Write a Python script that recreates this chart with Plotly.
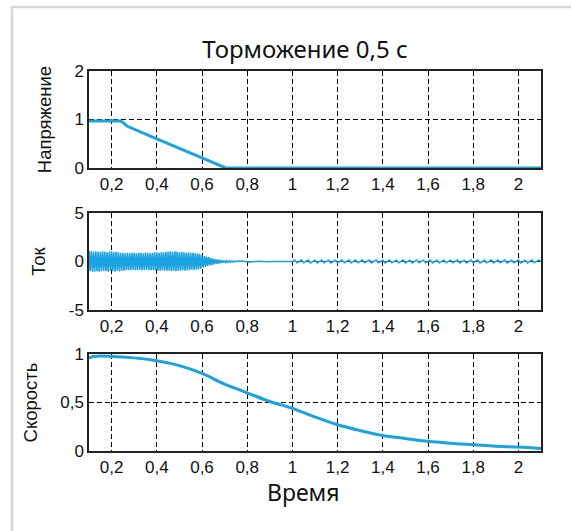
import numpy as np
import plotly.graph_objects as go
from plotly.subplots import make_subplots

# ---- data ----
title_text = "Торможение 0,5 с"
x_label = "Время"
y_labels = ["Напряжение", "Ток", "Скорость"]
x_tickvals = [0.2, 0.4, 0.6, 0.8, 1.0, 1.2, 1.4, 1.6, 1.8, 2.0]

voltage_t = [0.1, 0.24, 0.255, 0.27, 0.4, 0.5, 0.6, 0.705, 2.1]
voltage_v = [0.97, 0.97, 0.92, 0.86, 0.6, 0.41, 0.21, 0.0, 0.0]

current_t1 = np.round(np.arange(0.100, 0.7501, 0.005), 3)
current_i1 = [
    1.1, -1.0, 1.05, -1.05, 1.0, -1.05, 1.05, -1.0, 1.0, -1.05,
    1.0, -1.0, 1.05, -0.95, 1.0, -1.0, 0.95, -1.05, 1.0, -0.95,
    1.05, -1.0, 0.95, -1.05, 1.0, -0.95, 0.95, -1.0, 0.9, -0.95,
    0.9, -0.95, 0.85, -0.9, 0.9, -0.9, 0.85, -0.9, 0.9, -0.85,
    0.9, -0.9, 0.85, -0.9, 0.9, -0.85, 0.9, -0.9, 0.85, -0.9,
    0.9, -0.85, 0.9, -0.9, 0.85, -0.9, 0.9, -0.9, 0.95, -0.9,
    0.95, -0.95, 0.9, -0.95, 0.95, -0.9, 0.95, -0.95, 1.0, -0.95,
    1.0, -0.95, 1.05, -1.0, 1.0, -0.95, 1.05, -1.0, 1.0, -0.95,
    0.95, -0.95, 1.0, -0.9, 0.95, -0.95, 0.9, -0.9, 0.95, -0.9,
    0.9, -0.85, 0.9, -0.85, 0.85, -0.85, 0.85, -0.8, 0.8, -0.75,
    0.65, -0.6, 0.55, -0.55, 0.5, -0.45, 0.45, -0.4, 0.35, -0.35,
    0.3, -0.3, 0.25, -0.25, 0.2, -0.2, 0.15, -0.15, 0.12, -0.12,
    0.1, -0.1, 0.08, -0.08, 0.06, -0.06, 0.05, -0.05, 0.04, -0.04,
    0.03,
]
current_t2 = np.round(np.arange(0.76, 2.1001, 0.01), 3)
current_i2 = [
    0.05, 0.08, 0.05, 0.0, -0.05, -0.06, -0.03, 0.0, 0.03, 0.04,
    0.02, 0.0, -0.02, -0.03, -0.02, 0.0, 0.01, 0.01, 0.0, 0.0,
    0.0, 0.0, 0.0, 0.0,
    0.0, 0.14, -0.12, 0.0, 0.16, -0.12, 0.0, 0.14, -0.14, 0.0,
    0.12, -0.14, 0.0, 0.16, -0.12, 0.0, 0.14, -0.15, 0.0, 0.12,
    -0.12, 0.0, 0.16, -0.12, 0.0, 0.14, -0.14, 0.0, 0.16, -0.12,
    0.0, 0.15, -0.12, 0.0, 0.14, -0.14, 0.0, 0.16, -0.12, 0.0,
    0.12, -0.14, 0.0, 0.16, -0.12, 0.0, 0.14, -0.12, 0.0, 0.15,
    -0.14, 0.0, 0.12, -0.14, 0.0, 0.16, -0.12, 0.0, 0.14, -0.12,
    0.0, 0.15, -0.14, 0.0, 0.12, -0.14, 0.0, 0.16, -0.12, 0.0,
    0.14, -0.12, 0.0, 0.15, -0.14, 0.0, 0.12, -0.16, 0.0, 0.14,
    -0.12, 0.0, 0.16, -0.14, 0.0, 0.12, -0.12, 0.0, 0.15, -0.14,
    0.0, 0.14, -0.12, 0.0, 0.16, -0.14, 0.0, 0.12, -0.12, 0.0,
    0.15, -0.14, 0.0, 0.12, -0.14, 0.0, 0.16, -0.12, 0.0, 0.14, 0.0,
]
current_t = list(current_t1) + list(current_t2)
current_i = current_i1 + current_i2

speed_t = [0.1, 0.12, 0.2, 0.3, 0.4, 0.5, 0.6, 0.7, 0.8, 0.9, 1.0, 1.1, 1.2,
           1.3, 1.4, 1.5, 1.6, 1.7, 1.8, 1.9, 2.0, 2.1]
speed_v = [0.96, 0.975, 0.975, 0.96, 0.93, 0.88, 0.8, 0.69, 0.6, 0.51, 0.44,
           0.35, 0.27, 0.21, 0.16, 0.13, 0.10, 0.08, 0.065, 0.05, 0.04, 0.025]

# ---- figure ----
W, H = 571, 531
L, R, T, B = 89, 30, 71, 80
LINE = "#1aa3e0"
NARROW = "Liberation Sans Narrow, Arial Narrow, Liberation Sans"
TICKFONT = dict(family=NARROW, size=17, color="#111")

fig = make_subplots(rows=3, cols=1, shared_xaxes=False, vertical_spacing=0.116)

fig.add_trace(go.Scatter(x=voltage_t, y=voltage_v, mode="lines",
                         line=dict(color=LINE, width=3), showlegend=False), row=1, col=1)
fig.add_trace(go.Scatter(x=current_t, y=current_i, mode="lines",
                         line=dict(color=LINE, width=1.6), showlegend=False), row=2, col=1)
fig.add_trace(go.Scatter(x=speed_t, y=speed_v, mode="lines", line_shape="spline",
                         line=dict(color=LINE, width=3), showlegend=False), row=3, col=1)

plot_h = H - T - B
def frac(px):
    return (H - B - px) / plot_h

pw = W - L - R
def px_x(p):
    return (p - L) / pw

fig.update_layout(
    yaxis=dict(domain=[frac(168), 1.0]),
    yaxis2=dict(domain=[frac(310), frac(213)]),
    yaxis3=dict(domain=[0.0, frac(354)]),
)

for i in range(1, 4):
    fig.update_xaxes(row=i, col=1, range=[0.1, 2.1], tickvals=x_tickvals,
                     showgrid=True, gridcolor="black", gridwidth=1, griddash="5px,3px",
                     showline=True, linecolor="#222", linewidth=1.5, mirror=True,
                     ticks="", tickfont=TICKFONT, zeroline=False, layer="below traces")

yax_common = dict(showgrid=True, gridcolor="black", gridwidth=1, griddash="5px,3px",
                  showline=True, linecolor="#222", linewidth=1.5, mirror=True,
                  ticks="", tickfont=TICKFONT, zeroline=False, layer="below traces",
                  title_font=dict(family=NARROW, size=18.5, color="#111"),
                  title_standoff=18)
fig.update_yaxes(row=1, col=1, range=[0, 2], tickvals=[0, 1, 2], ticktext=["0", "1", "2"],
                 title_text=y_labels[0], **yax_common)
fig.update_yaxes(row=2, col=1, range=[-5, 5], tickvals=[-5, 0, 5], ticktext=["-5", "0", "5"],
                 title_text=y_labels[1], **yax_common)
fig.update_yaxes(row=3, col=1, range=[0, 1], tickvals=[0, 0.5, 1], ticktext=["0", "0,5", "1"],
                 title_text=y_labels[2], **yax_common)

fig.update_layout(
    width=W, height=H,
    margin=dict(l=L, r=R, t=T, b=B),
    paper_bgcolor="white", plot_bgcolor="white",
    separators=", ",
    title=dict(text=title_text, x=px_x(305), xref="paper", xanchor="center",
               y=1 - 50 / H, yanchor="middle",
               font=dict(family="Noto Sans", size=24, color="#111")),
    annotations=[
        dict(text=x_label, xref="paper", yref="paper", x=px_x(303), y=frac(492),
             xanchor="center", yanchor="middle", showarrow=False,
             font=dict(family="Noto Sans", size=23, color="#111")),
    ],
    shapes=[
        dict(type="line", xref="paper", yref="paper", x0=px_x(11), x1=px_x(575),
             y0=frac(7), y1=frac(7), line=dict(color="#d6d6d6", width=2.5)),
        dict(type="line", xref="paper", yref="paper", x0=px_x(12), x1=px_x(12),
             y0=frac(7), y1=frac(535), line=dict(color="#d6d6d6", width=2.5)),
    ],
)

fig.write_html("out.html")
